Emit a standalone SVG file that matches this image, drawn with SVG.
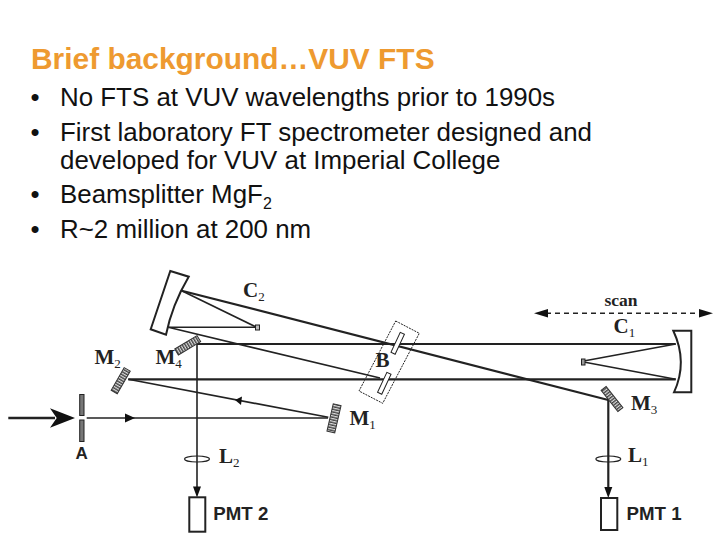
<svg xmlns="http://www.w3.org/2000/svg" width="720" height="540" viewBox="0 0 720 540">
<style>
text{font-family:"Liberation Sans",Arial,sans-serif}
.title{font-size:29.9px;font-weight:bold;fill:#ee9a30}
.body{font-size:25.9px;fill:#111}
.serif{font-family:"Liberation Serif","Times New Roman",serif;font-weight:bold;font-size:21px;fill:#222}
.sub{font-family:"Liberation Serif","Times New Roman",serif;font-size:13px;font-weight:normal;fill:#222}
.pmt{font-weight:bold;font-size:18.7px;fill:#222}
.beam{stroke:#222;stroke-width:1.6;fill:none}
.thick{stroke:#222;stroke-width:2.2;fill:none}
.box{fill:#fff;stroke:#222;stroke-width:2}
.hatch{fill:url(#h);stroke:#333;stroke-width:1}
.head{fill:#111;stroke:none}
</style>
<defs>
<pattern id="h" width="2.6" height="4" patternUnits="userSpaceOnUse"><rect width="2.6" height="4" fill="#ddd"/><rect width="1.4" height="4" fill="#444"/></pattern>
</defs>
<rect width="720" height="540" fill="#fff"/>
<g id="heading"><text class="title" x="31" y="69">Brief background…VUV FTS</text></g>
<g id="bullets">
<text class="body" x="30.5" y="106">•</text><text class="body" x="60" y="106">No FTS at VUV wavelengths prior to 1990s</text>
<text class="body" x="30.5" y="141">•</text><text class="body" x="60" y="141">First laboratory FT spectrometer designed and</text>
<text class="body" x="60" y="169">developed for VUV at Imperial College</text>
<text class="body" x="30.5" y="203">•</text><text class="body" x="60" y="203">Beamsplitter MgF<tspan font-size="16" dy="6">2</tspan></text>
<text class="body" x="30.5" y="238">•</text><text class="body" x="60" y="238">R~2 million at 200 nm</text>
</g>
<g id="connectors">
<path class="thick" d="M181.7 290.7L608.3 400"/>
<path class="beam" d="M181.7 290.7L256 327"/>
<path class="beam" d="M168.3 327.3H256"/>
<path class="beam" d="M168.3 327.3L380 378"/>
<path class="thick" d="M197 344H675.7"/>
<path class="thick" d="M128.3 379.3H675.7"/>
<path class="beam" d="M197 344V490"/>
<path class="beam" d="M128.3 379.3L328.3 417.3"/>
<path class="beam" d="M86.7 418H328"/>
<path d="M8.3 418H55" stroke="#222" stroke-width="2.5"/>
<path class="beam" d="M585 360.7L675.7 344"/>
<path class="beam" d="M585 362.3L675.7 379.3"/>
<path class="thick" d="M608.3 400V490"/>
<path d="M546 313.3H702" stroke="#222" stroke-width="1.5" stroke-dasharray="5 4"/>
<path class="head" d="M50 408.3L75 418L50 427.7L56.7 418Z"/>
<path class="head" d="M125 413.5L135 418L125 422.5Z"/>
<path class="head" d="M235 400L242 396.5L241 405Z"/>
<path class="head" d="M193 486.5H201L197 497.5Z"/>
<path class="head" d="M604.3 487H612.3L608.3 498Z"/>
<path class="head" d="M534 313.3L548 309V317.5Z"/>
<path class="head" d="M713 313.3L699 309V317.5Z"/>
</g>
<g id="mirror-c2"><path class="box" d="M170.3 271L188.7 276.7Q172 305 166 334.7L150.7 329.3Z"/></g>
<g id="source-c2"><rect x="255.5" y="325" width="4" height="5" stroke-width="1" stroke="#222" fill="#bbb"/></g>
<g id="mirror-m4"><rect class="hatch" x="-13" y="-3.5" width="26" height="7" transform="translate(187.7 345.3) rotate(-31)"/></g>
<g id="mirror-m2"><rect class="hatch" x="-13" y="-3.5" width="26" height="7" transform="translate(120.7 380.7) rotate(-60)"/></g>
<g id="mirror-m1"><rect class="hatch" x="-14" y="-4" width="28" height="8" transform="translate(334 418.3) rotate(-77)"/></g>
<g id="mirror-m3"><rect class="hatch" x="-13.5" y="-3.2" width="27" height="6.4" transform="translate(612 399) rotate(51.6)"/></g>
<g id="aperture-a">
<rect x="79.7" y="394.5" width="4.3" height="21" fill="#777" stroke="#222"/>
<rect x="79.7" y="420" width="4.3" height="21.5" fill="#777" stroke="#222"/>
<text x="81.7" y="458.5" text-anchor="middle" font-size="17" font-weight="bold" fill="#222">A</text>
</g>
<g id="beamsplitter-b">
<path d="M395.7 321L419.3 333.3L382.7 403.3L359 391Z" fill="none" stroke="#222" stroke-width="1" stroke-dasharray="2 1"/>
<rect fill="#fff" stroke="#222" stroke-width="1" x="-11" y="-2.3" width="22" height="4.6" transform="translate(397.7 343.3) rotate(115)"/>
<rect fill="#fff" stroke="#222" stroke-width="1" x="-11" y="-2.3" width="22" height="4.6" transform="translate(384.3 383.3) rotate(115)"/>
<text class="serif" x="375.5" y="367">B</text>
</g>
<g id="mirror-c1"><path class="box" d="M673.3 330.7H691.3V392.3H674Q688 362 673.3 330.7Z"/></g>
<g id="source-c1"><rect x="581.5" y="359" width="3.5" height="6" fill="#999" stroke="#222"/></g>
<g id="lens-l2"><ellipse cx="197" cy="459" rx="12.5" ry="3" fill="none" stroke="#222" stroke-width="1.2"/></g>
<g id="lens-l1"><ellipse cx="608.3" cy="459" rx="12.5" ry="3" fill="none" stroke="#222" stroke-width="1.2"/></g>
<g id="pmt-2"><rect class="box" x="189.3" y="497.3" width="16" height="34.4"/><text class="pmt" x="213.3" y="520">PMT 2</text></g>
<g id="pmt-1"><rect class="box" x="601" y="498" width="16.3" height="32"/><text class="pmt" x="626.5" y="520">PMT 1</text></g>
<g id="labels">
<text class="serif" x="243" y="297">C<tspan class="sub" dy="4">2</tspan></text>
<text class="serif" x="94.5" y="364">M<tspan class="sub" dy="4">2</tspan></text>
<text class="serif" x="155.5" y="364">M<tspan class="sub" dy="4">4</tspan></text>
<text class="serif" x="349.5" y="425">M<tspan class="sub" dy="4">1</tspan></text>
<text class="serif" x="631" y="410">M<tspan class="sub" dy="4">3</tspan></text>
<text class="serif" x="219" y="462.5">L<tspan class="sub" dy="4">2</tspan></text>
<text class="serif" x="628" y="462">L<tspan class="sub" dy="4">1</tspan></text>
<text class="serif" x="613.5" y="333">C<tspan class="sub" dy="4">1</tspan></text>
<text class="serif" style="font-size:17.5px" x="604.5" y="306">scan</text>
</g>
</svg>
